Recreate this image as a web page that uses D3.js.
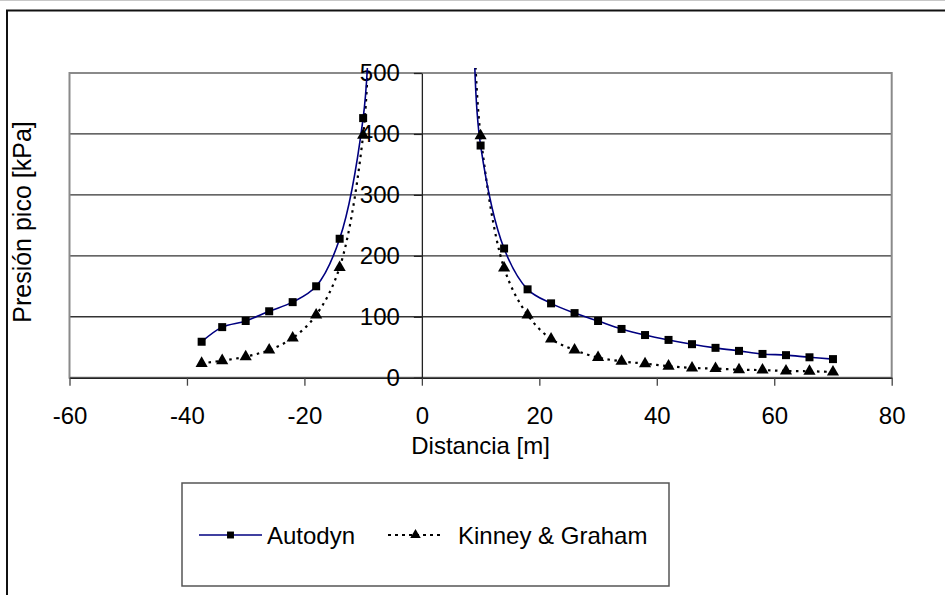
<!DOCTYPE html>
<html>
<head>
<meta charset="utf-8">
<script src="https://cdn.jsdelivr.net/npm/d3@7"></script>
<style>
  body { margin: 0; background: #fff; }
  svg { display: block; font-family: "Liberation Sans", Arial, sans-serif; }
</style>
</head>
<body>
<div id="chart"></div>
<script>
// distances [m]
const leftX = [-37.5, -34, -30, -26, -22, -18, -14, -10, -9];
const rightX = [9, 10, 14, 18, 22, 26, 30, 34, 38, 42, 46, 50, 54, 58, 62, 66, 70];

// peak pressure [kPa] (points at +-9 m lie above the axis max and get clipped)
const autodynLeft = [59, 83, 93, 109, 124, 150, 228, 426, 574];
const autodynRight = [513, 381, 212, 145, 122, 106, 93, 80, 70, 62, 55, 49, 44, 39, 37, 33.5, 30.5];
const kinneyLeft = [23.5, 28, 34.5, 45.5, 65, 103, 181, 398, 568];
const kinneyRight = [544, 397, 180, 103, 63.5, 45.5, 33, 27, 23, 19, 16, 15, 13, 12.5, 11, 10.5, 9.5];

const xTicks = [-60, -40, -20, 0, 20, 40, 60, 80];
const yTicks = [0, 100, 200, 300, 400, 500];

const seriesNames = ["Autodyn", "Kinney & Graham"];

const width = 945, height = 595;
const plot = { left: 69.5, right: 891.7, top: 73, bottom: 377.7 };

const svg = d3.select("#chart").append("svg")
    .attr("width", width)
    .attr("height", height);

// page edge + outer chart border
svg.append("line")
    .attr("x1", 0).attr("x2", width).attr("y1", 0.5).attr("y2", 0.5)
    .attr("stroke", "#c8c8c8");
svg.append("rect")
    .attr("x", 7).attr("y", 10.5)
    .attr("width", 960).attr("height", 620)
    .attr("fill", "none")
    .attr("stroke", "#111")
    .attr("stroke-width", 2);

const x = d3.scaleLinear().domain([-60, 80]).range([plot.left, plot.right]);
const y = d3.scaleLinear().domain([0, 500]).range([plot.bottom, plot.top]);

// gridlines
svg.append("g")
    .selectAll("line")
    .data(yTicks.filter(d => d > 0 && d < 500))
    .enter().append("line")
    .attr("x1", plot.left).attr("x2", plot.right)
    .attr("y1", d => y(d)).attr("y2", d => y(d))
    .attr("stroke", "#333")
    .attr("stroke-width", 1.3);

// plot area frame
svg.append("rect")
    .attr("x", plot.left).attr("y", plot.top)
    .attr("width", plot.right - plot.left)
    .attr("height", plot.bottom - plot.top)
    .attr("fill", "none")
    .attr("stroke", "#8a8a8a")
    .attr("stroke-width", 2);

// x axis (plain hyphen for negatives, like the original)
const xAxis = d3.axisBottom(x)
    .tickValues(xTicks)
    .tickFormat(d => String(d))
    .tickSize(8)
    .tickPadding(21)
    .tickSizeOuter(0);
const gx = svg.append("g")
    .attr("transform", `translate(0, ${plot.bottom})`)
    .call(xAxis);
gx.select(".domain").attr("stroke", "#222").attr("stroke-width", 1.5);
gx.selectAll(".tick line").attr("stroke", "#444").attr("stroke-width", 1.3);
gx.selectAll(".tick text")
    .attr("font-size", "24px")
    .attr("font-family", "Liberation Sans, Arial, sans-serif")
    .attr("fill", "#000");

// y axis sits at x = 0
const yAxis = d3.axisLeft(y)
    .tickValues(yTicks)
    .tickFormat(d => String(d))
    .tickSize(8)
    .tickPadding(14)
    .tickSizeOuter(0);
const gy = svg.append("g")
    .attr("transform", `translate(${x(0)}, 0)`)
    .call(yAxis);
gy.select(".domain").attr("stroke", "#222").attr("stroke-width", 1.3);
gy.selectAll(".tick line").attr("stroke", "#222").attr("stroke-width", 1.3);
gy.selectAll(".tick text")
    .attr("font-size", "24px")
    .attr("font-family", "Liberation Sans, Arial, sans-serif")
    .attr("fill", "#000");

// axis titles
svg.append("text")
    .attr("x", (plot.left + plot.right) / 2)
    .attr("y", 454)
    .attr("text-anchor", "middle")
    .attr("font-size", "24px")
    .text("Distancia [m]");

svg.append("text")
    .attr("transform", "translate(31, 222) rotate(-90)")
    .attr("text-anchor", "middle")
    .attr("font-size", "25px")
    .text("Presión pico [kPa]");

// clip the curves to the plot area
svg.append("clipPath").attr("id", "plotclip")
    .append("rect")
    .attr("x", plot.left).attr("y", plot.top - 5)
    .attr("width", plot.right - plot.left)
    .attr("height", plot.bottom - plot.top + 5);

const line = d3.line()
    .x(d => x(d[0]))
    .y(d => y(d[1]))
    .curve(d3.curveCatmullRom.alpha(0.5));

const zip = (xs, ys) => xs.map((v, i) => [v, ys[i]]);

const series = [
    { name: seriesNames[0], parts: [zip(leftX, autodynLeft), zip(rightX, autodynRight)],
      stroke: "#000080", width: 1.6, dash: null, marker: d3.symbolSquare, size: 64 },
    { name: seriesNames[1], parts: [zip(leftX, kinneyLeft), zip(rightX, kinneyRight)],
      stroke: "#000", width: 2.2, dash: "2.5,4.5", marker: d3.symbolTriangle, size: 64 }
];

const curves = svg.append("g").attr("clip-path", "url(#plotclip)");
series.slice().reverse().forEach(s => {
    s.parts.forEach(p => {
        curves.append("path")
            .attr("d", line(p))
            .attr("fill", "none")
            .attr("stroke", s.stroke)
            .attr("stroke-width", s.width)
            .attr("stroke-dasharray", s.dash);
    });
});

// markers only for points inside the axis range
series.forEach(s => {
    const pts = s.parts.flat().filter(d => d[1] <= 500);
    svg.append("g")
        .selectAll("path")
        .data(pts)
        .enter().append("path")
        .attr("transform", d => `translate(${x(d[0])}, ${y(d[1])})`)
        .attr("d", d3.symbol().type(s.marker).size(s.size))
        .attr("fill", "#000");
});

// legend
const legend = svg.append("g");
legend.append("rect")
    .attr("x", 182).attr("y", 483)
    .attr("width", 487).attr("height", 103)
    .attr("fill", "#fff")
    .attr("stroke", "#555")
    .attr("stroke-width", 1.5);

const legendItems = [
    { s: series[0], x1: 199, x2: 262, tx: 267 },
    { s: series[1], x1: 388, x2: 443, tx: 458 }
];
legendItems.forEach(li => {
    legend.append("line")
        .attr("x1", li.x1).attr("x2", li.x2)
        .attr("y1", 535).attr("y2", 535)
        .attr("stroke", li.s.stroke)
        .attr("stroke-width", li.s.dash ? 1.8 : 1.4)
        .attr("stroke-dasharray", li.s.dash ? "3,4" : null);
    legend.append("path")
        .attr("transform", `translate(${(li.x1 + li.x2) / 2}, 535)`)
        .attr("d", d3.symbol().type(li.s.marker).size(li.s.size * 0.75))
        .attr("fill", "#000");
    legend.append("text")
        .attr("x", li.tx)
        .attr("y", 543.5)
        .attr("font-size", "24px")
        .text(li.s.name);
});
</script>
</body>
</html>
